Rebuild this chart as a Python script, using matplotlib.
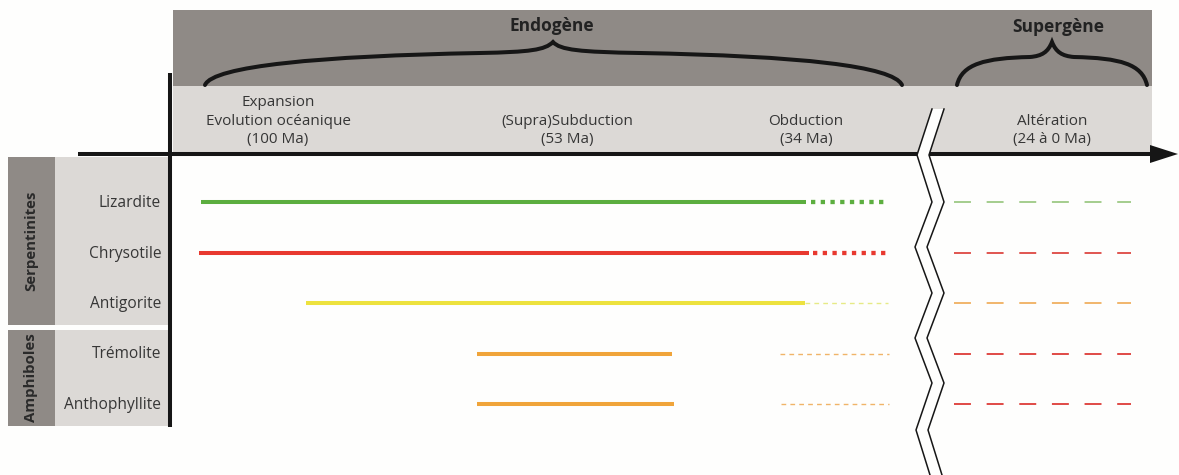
import numpy as np
import matplotlib.pyplot as plt
from matplotlib.path import Path
from matplotlib.patches import PathPatch, Rectangle, Polygon

plt.rcParams['font.family'] = ['Open Sans', 'DejaVu Sans']
plt.rcParams['lines.scale_dashes'] = False

# --- data -------------------------------------------------------------
minerals = ['Lizardite', 'Chrysotile', 'Antigorite', 'Trémolite', 'Anthophyllite']
groups = ['Serpentinites', 'Amphiboles']
group_sizes = [3, 2]
phases = ['Expansion\nEvolution océanique\n(100 Ma)', '(Supra)Subduction\n(53 Ma)',
          'Obduction\n(34 Ma)', 'Altération\n(24 à 0 Ma)']
phase_pos = [278, 567, 806, 1052]
domains = ['Endogène', 'Supergène']

# extents along the (broken) time axis, in diagram units
solid_start = [201, 199, 306, 477, 477]
solid_end = [806, 809, 805, 672, 674]
ext_start = [811, 813, 805, 780, 781]
ext_end = [884, 887, 888, 889, 889]
alt_start = [954, 954, 954, 954, 954]
alt_end = [1131, 1131, 1131, 1131, 1131]

# --- styles -----------------------------------------------------------
solid_colors = ['#5cae3f', '#e8392f', '#ede23e', '#f0a43a', '#f0a43a']
ext_colors = ['#5cae3f', '#e8392f', '#e6ea86', '#f0b468', '#f0b468']
ext_styles = [dict(lw=3.1, dashes=(3.1, 3.9)), dict(lw=3.1, dashes=(3.1, 3.9)),
              dict(lw=1.0, dashes=(3.4, 3.0)), dict(lw=1.0, dashes=(3.4, 3.0)),
              dict(lw=1.0, dashes=(3.4, 3.0))]
alt_colors = ['#8cc070', '#e05550', '#f0b060', '#e04a45', '#e04a45']
alt_lw = [1.1, 1.4, 1.3, 1.4, 1.4]

DARK = '#8f8a86'
LIGHT = '#dcd9d6'
INK = '#161616'
TXT = '#363636'

W, H = 1179, 475
ROW0, ROWSTEP = 202, 50.5


def brace(ax, pts):
    # pts: start point followed by triples of cubic bezier points
    codes = [Path.MOVETO] + [Path.CURVE4] * (len(pts) - 1)
    ax.add_patch(PathPatch(Path(pts, codes), fc='none', ec=INK, lw=2.9,
                           capstyle='round', zorder=3))


fig = plt.figure(figsize=(W / 100, H / 100), dpi=100)
fig.patch.set_facecolor('#fefefd')
ax = fig.add_axes([0, 0, 1, 1])
ax.set_xlim(0, W)
ax.set_ylim(H, 0)
ax.axis('off')

# header bands
ax.add_patch(Rectangle((173, 10), 979, 76, fc=DARK, ec='none'))
ax.add_patch(Rectangle((173, 86), 979, 66, fc=LIGHT, ec='none'))

for i, lab in enumerate(phases):
    ax.text(phase_pos[i], 147, lab, ha='center', va='bottom', fontsize=11,
            color=TXT, linespacing=1.3)

ax.text(552, 26, domains[0], ha='center', va='center', fontsize=12.5,
        fontweight='bold', color='#222222')
ax.text(1058, 27, domains[1], ha='center', va='center', fontsize=12.5,
        fontweight='bold', color='#222222')

brace(ax, [(205, 85), (213, 66), (320, 56), (480, 53),
           (530, 52), (545, 50), (553, 42),
           (560, 50), (580, 52), (640, 53),
           (800, 56), (893, 66), (902, 85)])
brace(ax, [(957, 85), (962, 64), (985, 58), (1030, 57),
           (1042, 56), (1048, 52), (1052, 42),
           (1056, 52), (1062, 56), (1074, 57),
           (1120, 58), (1142, 64), (1147, 85)])

# row header boxes
box_tops = [157, 330]
box_bottoms = [325, 426]
for g, n in enumerate(group_sizes):
    top, bot = box_tops[g], box_bottoms[g]
    ax.add_patch(Rectangle((8, top), 47, bot - top, fc=DARK, ec='none'))
    ax.add_patch(Rectangle((55, top), 113, bot - top, fc=LIGHT, ec='none'))
    ax.text(31, (top + bot) / 2, groups[g], rotation=90, ha='center', va='center',
            fontsize=10.8, fontweight='bold', color='#2a2a2a')

for i, m in enumerate(minerals):
    y = ROW0 + ROWSTEP * i
    ax.text(161, y + 1, m, ha='right', va='center', fontsize=11.2, color=TXT)
    ax.plot([solid_start[i], solid_end[i]], [y, y], color=solid_colors[i], lw=2.9,
            solid_capstyle='butt', zorder=2)
    st = ext_styles[i]
    ax.plot([ext_start[i], ext_end[i]], [y, y], color=ext_colors[i], lw=st['lw'],
            dashes=st['dashes'], dash_capstyle='butt', zorder=2)
    ax.plot([alt_start[i], alt_end[i]], [y, y], color=alt_colors[i], lw=alt_lw[i],
            dashes=(12.2, 11.3), dash_capstyle='butt', zorder=2)

# axes
ax.plot([78, 1152], [154, 154], color=INK, lw=2.9, solid_capstyle='butt', zorder=4)
ax.add_patch(Polygon([(1150, 145), (1178, 154), (1150, 163)], fc=INK, ec='none', zorder=4))
ax.plot([170, 170], [73, 427], color=INK, lw=2.9, solid_capstyle='butt', zorder=4)

# axis break
zy = [109, 155, 202, 247, 293, 338, 383, 430, 475]
zx = [932, 917, 932, 915, 932, 915, 932, 916, 930]
left = list(zip(zx, zy))
right = [(x + 12, y) for x, y in left]
ax.add_patch(Polygon(left + right[::-1], fc='#fefefd', ec='none', zorder=5))
ax.plot(zx, zy, color=INK, lw=1.1, zorder=6)
ax.plot([x + 12 for x in zx], zy, color=INK, lw=1.1, zorder=6)

fig.savefig('out.png', dpi=100, facecolor=fig.get_facecolor())
